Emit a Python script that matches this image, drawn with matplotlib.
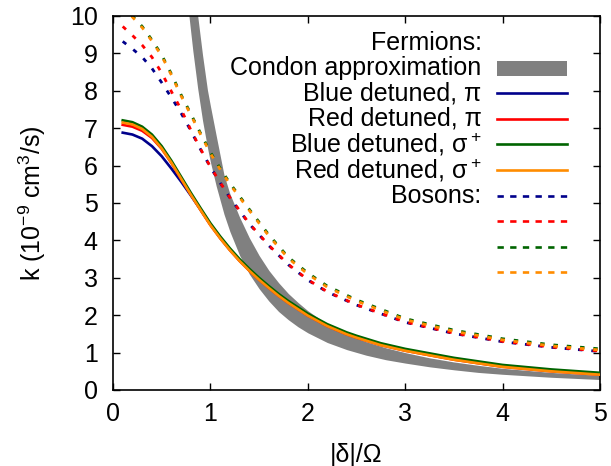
import matplotlib
matplotlib.use("Agg")
import matplotlib.pyplot as plt
from matplotlib.patches import Rectangle

plt.rcParams['font.family'] = ['Liberation Sans', 'DejaVu Sans']
plt.rcParams['mathtext.default'] = 'regular'

# Condon approximation: band between a lower and an upper curve
cx = [0.78, 0.82, 0.87, 0.92, 0.97, 1.0, 1.06, 1.14, 1.2, 1.3, 1.4, 1.5, 1.6, 1.7,
      1.8, 1.9, 2.0, 2.2, 2.4, 2.6, 2.8, 3.0, 3.25, 3.5, 3.75, 4.0, 4.5, 5.0]
condon_lo = [10.0, 9.07, 8.06, 7.2, 6.48, 6.1, 5.45, 4.7, 4.24, 3.6, 3.1, 2.71, 2.38,
             2.1, 1.88, 1.69, 1.53, 1.27, 1.08, 0.93, 0.81, 0.72, 0.62, 0.54, 0.47,
             0.42, 0.34, 0.28]
condon_hi = [12.3, 11.2, 10.0, 8.95, 8.02, 7.6, 6.8, 5.75, 5.25, 4.62, 4.07, 3.6, 3.2,
             2.87, 2.58, 2.34, 2.12, 1.76, 1.48, 1.29, 1.13, 1.0, 0.86, 0.75, 0.66,
             0.58, 0.47, 0.39]

# Fermions (solid lines)
fx = [0.1, 0.2, 0.3, 0.4, 0.5, 0.6, 0.7, 0.8, 0.9, 1.0, 1.1, 1.2, 1.3, 1.4, 1.5,
      1.6, 1.7, 1.8, 2.0, 2.2, 2.4, 2.5, 2.75, 3.0, 3.5, 4.0, 4.5, 5.0]
f_blue_pi = [6.88, 6.83, 6.72, 6.52, 6.25, 5.92, 5.57, 5.2, 4.82, 4.43, 4.08, 3.76,
             3.47, 3.21, 2.97, 2.75, 2.54, 2.35, 2.01, 1.73, 1.51, 1.42, 1.22, 1.07,
             0.83, 0.64, 0.52, 0.43]
f_red_pi = [7.09, 7.04, 6.93, 6.74, 6.45, 6.07, 5.64, 5.22, 4.81, 4.41, 4.06, 3.74,
            3.45, 3.19, 2.95, 2.73, 2.52, 2.33, 1.99, 1.71, 1.49, 1.40, 1.20, 1.05,
            0.81, 0.62, 0.50, 0.41]
f_blue_sig = [7.21, 7.16, 7.04, 6.83, 6.52, 6.13, 5.7, 5.27, 4.86, 4.46, 4.11, 3.79,
              3.5, 3.24, 3.0, 2.78, 2.57, 2.38, 2.04, 1.76, 1.54, 1.45, 1.25, 1.1,
              0.86, 0.67, 0.55, 0.46]
f_red_sig = [7.15, 7.1, 6.98, 6.77, 6.46, 6.08, 5.65, 5.22, 4.81, 4.41, 4.06, 3.74,
             3.45, 3.19, 2.95, 2.73, 2.52, 2.33, 1.99, 1.71, 1.49, 1.40, 1.20, 1.05,
             0.81, 0.62, 0.50, 0.41]

# Bosons (dashed lines)
bx = [0.1, 0.2, 0.3, 0.4, 0.5, 0.6, 0.7, 0.8, 0.9, 1.0, 1.1, 1.2, 1.4, 1.6, 1.8,
      2.0, 2.2, 2.5, 3.0, 3.5, 4.0, 4.5, 5.0]
b_blue_pi = [9.32, 9.12, 8.9, 8.6, 8.22, 7.82, 7.4, 6.93, 6.43, 5.96, 5.54, 5.14,
             4.44, 3.86, 3.35, 2.94, 2.62, 2.27, 1.81, 1.51, 1.29, 1.14, 1.03]
b_red_pi = [9.72, 9.48, 9.22, 8.9, 8.48, 7.98, 7.5, 6.95, 6.44, 5.97, 5.55, 5.15,
            4.45, 3.87, 3.36, 2.95, 2.63, 2.28, 1.82, 1.52, 1.30, 1.15, 1.04]
b_blue_sig = [10.28, 10.0, 9.72, 9.36, 8.96, 8.45, 7.89, 7.38, 6.86, 6.36, 5.93, 5.53,
              4.83, 4.15, 3.55, 3.13, 2.78, 2.41, 1.91, 1.60, 1.37, 1.21, 1.10]
b_red_sig = [10.25, 9.97, 9.69, 9.33, 8.93, 8.42, 7.86, 7.35, 6.83, 6.33, 5.9, 5.5,
             4.8, 4.12, 3.52, 3.1, 2.75, 2.38, 1.88, 1.57, 1.34, 1.18, 1.07]

colors = ['#00008b', '#ff0000', '#006400', '#ff8c00']
labels = ['Blue detuned, π', 'Red detuned, π',
          'Blue detuned, σ$^+$', 'Red detuned, σ$^+$']
gray = '#808080'
lw = 1.9
fs = 18

fig = plt.figure(figsize=(6.11, 4.66), dpi=100)
ax = fig.add_axes([0.1849, 0.1631, 0.797, 0.8026])

# gray band
ax.fill_between(cx, condon_lo, condon_hi, color=gray, lw=0, zorder=1)

for ys, c in zip([b_blue_pi, b_red_pi, b_blue_sig, b_red_sig], colors):
    ax.plot(bx, ys, color=c, lw=2.0, dashes=(1.6, 3.2), zorder=2)
for ys, c in zip([f_blue_pi, f_red_pi, f_blue_sig, f_red_sig], colors):
    ax.plot(fx, ys, color=c, lw=lw, zorder=3)

ax.set_xlim(0, 5)
ax.set_ylim(0, 10)
ax.set_xticks(range(0, 6))
ax.set_yticks(range(0, 11))
ax.tick_params(direction='in', length=5, width=1, top=True, right=True,
               labelsize=fs)
ax.tick_params(axis='y', pad=11)
ax.tick_params(axis='x', pad=9)
for s in ax.spines.values():
    s.set_linewidth(1.2)
ax.set_xlabel('|δ|/Ω', fontsize=fs, labelpad=12)
ax.set_ylabel('k (10$^{-9}$ cm$^{3}$/s)', fontsize=fs, labelpad=16)

# legend drawn by hand, gnuplot style (text right-aligned, sample on the right)
def ypos(p):
    return (390 - p) / 374.0

tx = (481.7 - 113) / 487.0
hx0 = (496.7 - 113) / 487.0
hx1 = (566.7 - 113) / 487.0
rows = [43.3, 68.3, 93.3, 119.0, 144.3, 170.0, 195.7, 221.0, 246.7, 272.3]
kw = dict(transform=ax.transAxes, ha='right', va='center', fontsize=fs)

ax.text(tx, ypos(rows[0]), 'Fermions:', **kw)
ax.text(tx, ypos(rows[1]), 'Condon approximation', **kw)
ax.add_patch(Rectangle((hx0, ypos(rows[1]) - 7.5 / 374), hx1 - hx0, 15 / 374,
                       transform=ax.transAxes, color=gray, lw=0, zorder=4))
for i, (lab, c) in enumerate(zip(labels, colors)):
    ax.text(tx, ypos(rows[2 + i]), lab, **kw)
    ax.plot([hx0, hx1], [ypos(rows[2 + i])] * 2, color=c, lw=lw,
            transform=ax.transAxes, zorder=4)
ax.text(tx, ypos(rows[6]), 'Bosons:', **kw)
for i, c in enumerate(colors):
    ax.plot([hx0, hx1], [ypos(rows[6 + i])] * 2, color=c, lw=lw,
            dashes=(2.4, 2.4), transform=ax.transAxes, zorder=4)

fig.savefig('out.png', dpi=100)
